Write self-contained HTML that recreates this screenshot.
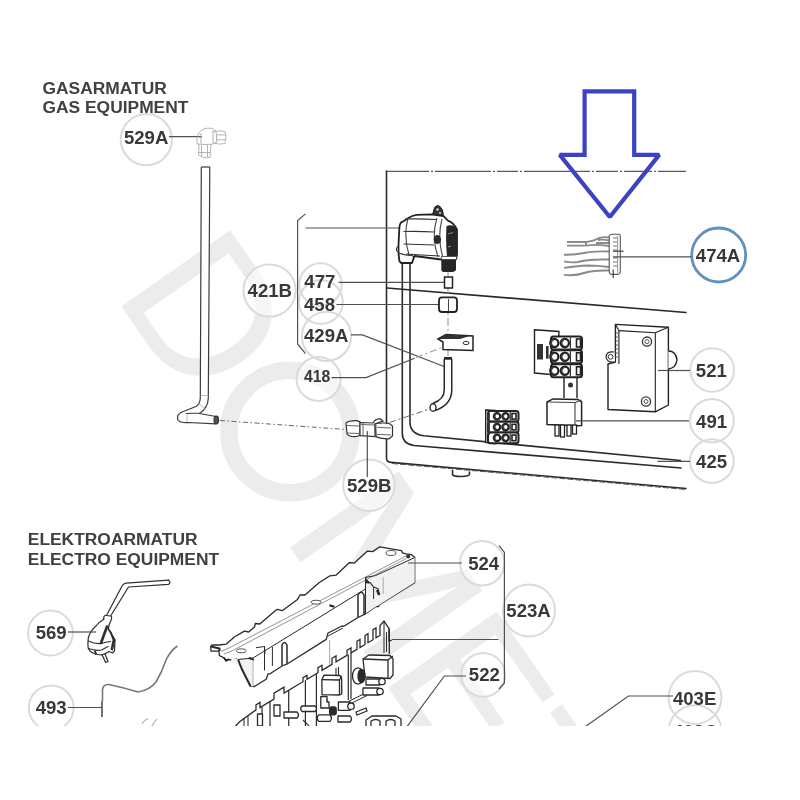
<!DOCTYPE html>
<html><head><meta charset="utf-8"><title>Dometic parts</title>
<style>
html,body{margin:0;padding:0;background:#fff;width:800px;height:800px;overflow:hidden}
svg{display:block}
.t{font-family:"Liberation Sans",sans-serif;font-weight:bold;fill:#383838;filter:grayscale(1)}
.h{font-family:"Liberation Sans",sans-serif;font-weight:bold;fill:#404040;font-size:17.4px;filter:grayscale(1)}
.c{fill:none;stroke:#dadada;stroke-width:2}
.cf{fill:#fff;fill-opacity:0.55;stroke:none}
.l{fill:none;stroke:#505050;stroke-width:1.2}
.d{fill:none;stroke:#2a2a2a;stroke-width:1.6;stroke-linejoin:round;stroke-linecap:round}
.g{fill:none;stroke:#909090;stroke-width:1}
.wm{font-family:"Liberation Sans",sans-serif;font-size:193px;fill:#ececec}
</style></head>
<body>
<svg width="800" height="800" viewBox="0 0 800 800">
<defs><clipPath id="cut"><rect x="0" y="0" width="800" height="726"/></clipPath></defs>
<g clip-path="url(#cut)">
<!-- watermark -->
<g transform="translate(112.3,293.6) rotate(55)" class="wm">
<text x="0" y="0">D</text>
<g transform="translate(292.1,0) scale(1.13,1)"><text x="0" y="0">M</text></g>
<text x="465.2" y="0">E</text>
<text x="590" y="0">T</text>
<text x="708" y="0">I</text>
<text x="762" y="0">C</text>
</g>
<circle cx="290" cy="431.5" r="61.2" fill="none" stroke="#ececec" stroke-width="17.5"/>

<!-- headers -->
<text class="h" x="42.5" y="93.6">GASARMATUR</text>
<text class="h" x="42.5" y="112.6">GAS EQUIPMENT</text>
<text class="h" x="27.8" y="545.2">ELEKTROARMATUR</text>
<text class="h" x="27.8" y="564.6">ELECTRO EQUIPMENT</text>

<!-- label circles -->
<g><circle class="cf" cx="146.3" cy="139.6" r="25.6"/><circle class="cf" cx="269.6" cy="290.5" r="26.1"/><circle class="cf" cx="320.5" cy="284.5" r="21.2"/><circle class="cf" cx="320.8" cy="302" r="22"/><circle class="cf" cx="326.5" cy="336.4" r="24.6"/><circle class="cf" cx="318.6" cy="379" r="22"/><circle class="cf" cx="368.9" cy="485.2" r="25.7"/><circle class="cf" cx="718.5" cy="254.5" r="26.5"/><circle class="cf" cx="712.2" cy="370" r="21.8"/><circle class="cf" cx="711.9" cy="420.7" r="21.8"/><circle class="cf" cx="711.9" cy="461.1" r="21.8"/><circle class="cf" cx="50.4" cy="633" r="22.4"/><circle class="cf" cx="51.2" cy="707.8" r="22.4"/><circle class="cf" cx="482.2" cy="563.3" r="22.2"/><circle class="cf" cx="529" cy="610.5" r="26"/><circle class="cf" cx="483.2" cy="674.9" r="21.9"/><circle class="cf" cx="695" cy="697.5" r="26.4"/><circle class="cf" cx="695" cy="731.7" r="26.4"/></g>
<circle class="c" cx="146.3" cy="139.6" r="25.6"/>
<circle class="c" cx="269.6" cy="290.5" r="26.1"/>
<circle class="c" cx="320.5" cy="284.5" r="21.2"/>
<circle class="c" cx="320.8" cy="302" r="22"/>
<circle class="c" cx="326.5" cy="336.4" r="24.6"/>
<circle class="c" cx="318.6" cy="379" r="22"/>
<circle class="c" cx="368.9" cy="485.2" r="25.7"/>
<circle cx="718.7" cy="255" r="27" fill="none" stroke="#6390c2" stroke-width="2.8"/>
<circle class="c" cx="712.2" cy="370" r="21.8"/>
<circle class="c" cx="711.9" cy="420.7" r="21.8"/>
<circle class="c" cx="711.9" cy="461.1" r="21.8"/>
<circle class="c" cx="50.4" cy="633" r="22.4"/>
<circle class="c" cx="51.2" cy="707.8" r="22.4"/>
<circle class="c" cx="482.2" cy="563.3" r="22.2"/>
<circle class="c" cx="529" cy="610.5" r="26"/>
<circle class="c" cx="483.2" cy="674.9" r="21.9"/>
<circle class="c" cx="695" cy="697.5" r="26.4"/>
<circle class="c" cx="695" cy="731.7" r="26.4"/>

<!-- labels -->
<g class="t" font-size="18.6">
<text x="123.9" y="144.4">529A</text>
<text x="247.6" y="296.7">421B</text>
<text x="304.3" y="288">477</text>
<text x="304" y="310.9">458</text>
<text x="304" y="342.4">429A</text>
<text x="347" y="492">529B</text>
<text x="695.8" y="261.6">474A</text>
<text x="695.8" y="376.9">521</text>
<text x="696.1" y="428">491</text>
<text x="696.1" y="468.3">425</text>
<text x="35.7" y="639.2">569</text>
<text x="35.7" y="714.2">493</text>
<text x="468.2" y="569.7">524</text>
<text x="506.3" y="616.8">523A</text>
<text x="468.8" y="681.2">522</text>
<text x="672.9" y="704.7">403E</text>
<text x="672.9" y="738">403C</text>
<text x="304" y="381.9" font-size="15.8">418</text>
</g>

<!-- ===== GAS SECTION ===== -->
<!-- panel frames -->
<line x1="387" y1="171.3" x2="686" y2="171.3" stroke="#5a5a5a" stroke-width="1.3" stroke-dasharray="42 2 2 2 56 2 2 2 21 2 2 2 66 2 2 2 22 2 2 2 28 2 2 2 40"/>
<path class="d" d="M386.5 171 V458 Q386.5 462 391 462.4 L686 488.5" stroke-width="2.4"/>
<path d="M392 463.5 L686 489.5" stroke="#555" stroke-width="1" stroke-dasharray="6 2" fill="none"/>
<path class="d" d="M402.3 262 V433 Q402.3 444 414 445.5 L681 468"/>
<path class="d" d="M410 262 V422 Q410 434 424 435.8 L680.5 460.5"/>
<path class="d" d="M387 288 L686 312.5" stroke-width="1.4"/>
<path class="d" d="M452.5 470.5 V474.5 Q453 476.5 461 476.5 Q469.5 476.5 469.5 474 V472" stroke-width="1.2"/>

<!-- 421B bracket & leaders -->
<path class="l" d="M305.5 213.9 L297.6 220.6 V344 L305.5 353.7"/>
<line class="l" x1="305.5" y1="228" x2="399" y2="228"/>
<line class="l" x1="338.5" y1="282.4" x2="444" y2="282.4"/>
<line class="l" x1="336.5" y1="304.5" x2="439" y2="304.5"/>
<path class="l" d="M351 334.9 H362.5 L448 368"/>
<path class="l" d="M331.6 377.6 H366 L414.6 358.3"/>
<path class="g" d="M416 357.5 L444 346.8" stroke-dasharray="7 3 2 3"/>
<line class="g" x1="448" y1="270" x2="448" y2="356" stroke-dasharray="8 3 2 3" stroke="#aaa"/>

<!-- gas valve -->
<g stroke-linejoin="round">
<path d="M399.4 227 Q400 222 403 221.6 L408.4 218 Q412 215.5 416.5 214.8 L431.8 214.4 L443.5 216.2 L448 220.7 Q454 223 457 229.7 V254 L456.1 259.4 L441 259.5 L414.7 256 L413.8 257.6 L412 263 H401.2 L399.4 261.2 L398.5 253 V245 Z" fill="#fff" stroke="#222" stroke-width="1.8"/>
<path d="M432.7 214 L434.5 207.5 Q437 204 440 206.5 L442.5 210 L443.5 216 Z" fill="#333" stroke="#222" stroke-width="1"/>
<circle cx="437.5" cy="209.5" r="1.2" fill="#ddd"/><circle cx="440" cy="213" r="1" fill="#ddd"/>
<path d="M446.5 226 Q450 224.5 454 226 L457 229.7 V254 L456 256.5 H447 Q445.5 242 446.5 226 Z" fill="#262626"/>
<path d="M448 234 L453 232.5 M448 247 L451 246" stroke="#aaa" stroke-width="0.8"/>
<path d="M403.5 231.5 Q420 231 434 232 M403.5 244 Q420 244.5 434 245 M405 219 Q420 218.5 436 219.5 M406 254 Q420 255 440 256" stroke="#333" stroke-width="1.2" fill="none"/>
<path d="M408 218 Q403 237 409.3 256 M437 218 Q431 237 438 257 M442 219 Q437 238 443 258" stroke="#444" stroke-width="1.1" fill="none"/>
<path d="M433.6 239.5 Q434 235 437.5 235 Q441 235.5 441 240 Q440.5 244 437 244 Q433.7 243.5 433.6 239.5 Z" fill="#2a2a2a"/>
<path d="M441.3 258.5 H456 V270 Q455 272 452 272 H444 Q441.3 272 441.3 270 Z" fill="#262626"/>
<path d="M441.5 256.5 H456.5 V259.5 H441.5 Z" fill="#fff" stroke="#333" stroke-width="0.8"/>
<path d="M398.5 253 Q404 255.5 412 255.5 L414 257" fill="none" stroke="#333" stroke-width="1.1"/>
<path d="M398 246 L396.5 248 V251 L398.5 252" fill="none" stroke="#333" stroke-width="1"/>
</g>
<!-- 477 -->
<rect x="444.5" y="277" width="8" height="11" fill="#fff" stroke="#222" stroke-width="1.5"/>
<!-- 458 -->
<rect x="439" y="297.3" width="18" height="14.7" rx="3" fill="#fff" stroke="#222" stroke-width="1.8"/>
<line x1="448.5" y1="299" x2="448.5" y2="311" stroke="#444" stroke-width="1"/>
<!-- 429A bracket -->
<path d="M438 339 L446 334.5 L473 336 V350.5 L443 349.5 V342 Z" fill="#fff" stroke="#222" stroke-width="1.5"/>
<path d="M438 339 L446 334.5 L470 336 L460 339 Z" fill="#333"/>
<ellipse cx="466" cy="343" rx="3" ry="1.6" fill="none" stroke="#333" stroke-width="1"/>
<!-- 418 hose -->
<path d="M448 359 V390 Q448 402 434 407" fill="none" stroke="#2a2a2a" stroke-width="9" stroke-linecap="butt"/>
<path d="M448 359.5 V390 Q448 402 434 407" fill="none" stroke="#fff" stroke-width="6"/>
<ellipse cx="433" cy="407.5" rx="3" ry="3.8" fill="#fff" stroke="#2a2a2a" stroke-width="1.4"/>
<rect x="444" y="357" width="8" height="2.5" fill="#2a2a2a"/>

<!-- long pipe 421B -->
<path d="M201.3 167 H209.8 L208.3 398 Q208 408 200 413 L216 416.5 V423.8 L188 422.5 Q180 423 178 420 Q176 415 182 412 L196 406.5 Q200 404 200.3 398 Z" fill="#fff" stroke="none"/>
<path d="M201.3 167 L200.3 398 Q200 404 196 406.5 L182 412 Q176 415 178 420 Q180 423 188 422.5 L216 423.8" fill="none" stroke="#3a3a3a" stroke-width="1.2"/>
<path d="M209.8 167 L208.3 398 Q208 408 200 413 L186 413.5 M199 413.5 L216 416.5" fill="none" stroke="#3a3a3a" stroke-width="1.2"/>
<line x1="201.3" y1="167" x2="209.8" y2="167" stroke="#3a3a3a" stroke-width="1.2"/>
<path d="M187 414.5 V422 M200.8 395.5 H208.3 M199 404 L206 409" stroke="#aaa" stroke-width="0.8" fill="none"/>
<ellipse cx="216.3" cy="420" rx="2.2" ry="3.8" fill="#555" stroke="#333" stroke-width="1.3"/>
<path d="M220 420.5 L346 429.5" stroke="#666" stroke-width="1" stroke-dasharray="5 2.5 1.5 2.5" fill="none"/>
<!-- 529A elbow -->
<line class="l" x1="169" y1="136.7" x2="202" y2="136.7"/>
<g fill="none" stroke="#aaa" stroke-width="0.9">
<path d="M197 144 Q196 131 205 128.5 Q212 127 216 131 L217 142 Q213 145 206 144.5 Z"/>
<path d="M212 132 Q220 130 225 131.5 Q227 136 225 143.5 Q219 145 214 143"/>
<path d="M199 144 L198.5 155 Q203 158.5 210 157.5 L211 144"/>
<path d="M201 133 V143.5 M216.5 134.9 H225.5 M216.5 139.8 H225.5 M201.5 145 V156 M207.5 145 V157 M199 152.5 H210.5 M213 131 V143"/>
</g>
<!-- 529B fitting -->
<g fill="#fff" stroke="#333" stroke-width="1.2">
<path d="M346 423 Q348 420.5 357 420.6 L360 422 V435 L357 436.5 Q349 437 347 434 Z"/>
<path d="M360 422.5 L373 423 Q375 419 380 418.7 L383 421 L375 424 V436.5 L360 435.7 Z"/>
<path d="M375 424 Q380 422.5 389 423.3 L392.5 426 V436 L389 438.8 Q379 438.5 376 436.5 Z"/>
</g>
<path d="M347 425.5 L359 426 M347 433 L359 433.5 M377 427.3 L391 428 M377 434.3 L391 435 M361 424.5 L374 425 M363 422 V436 M376 424.5 V437.5" stroke="#555" stroke-width="0.9" fill="none"/>
<line class="l" x1="367.3" y1="431" x2="367.3" y2="477"/>
<path d="M390 422.3 L431 408.5" stroke="#666" stroke-width="1" stroke-dasharray="6 3 2 3" fill="none"/>

<!-- 474A harness -->
<g fill="none" stroke="#8a8a8a" stroke-width="1.9">
<path d="M567 242 H586 Q594 241 598 238.5 Q604 236.5 609 237.5"/>
<path d="M567 245.6 H586 M586 242 V245.6 M586 245.6 Q596 244 609 246"/>
<path d="M598 240 Q603 239 609 240.5 M596 243 Q602 243 609 243"/>
<path d="M564 254.7 Q575 255 584 253 Q592 251 609 251.5"/>
<path d="M564 261.3 Q571 263 578 262 Q586 259 609 259.5"/>
<path d="M564 267.9 Q578 266 588 265.5 Q598 265.5 609 267"/>
<path d="M564 274.9 Q576 276 584 273 Q592 270 609 270.5"/>
</g>
<path d="M609.2 236 Q610 234 613 234.2 H619 Q620.5 234.5 620.3 237 V272 Q620 274.3 617 274.4 H612 Q609.2 274.4 609.2 271 Z" fill="#fff" stroke="#555" stroke-width="1.1"/>
<line x1="617.6" y1="236" x2="617.6" y2="273" stroke="#777" stroke-width="0.8"/>
<g stroke="#666" stroke-width="0.9"><line x1="613" y1="238" x2="617" y2="238"/><line x1="613" y1="242" x2="617" y2="242"/><line x1="613" y1="246" x2="617" y2="246"/><line x1="613" y1="250" x2="617" y2="250"/><line x1="613" y1="258" x2="617" y2="258"/><line x1="613" y1="262" x2="617" y2="262"/><line x1="613" y1="266" x2="617" y2="266"/></g>
<line x1="613.2" y1="269.6" x2="613.2" y2="278" stroke="#333" stroke-width="1.1"/>
<line x1="613" y1="251.2" x2="623.7" y2="251.2" stroke="#333" stroke-width="1.1"/>
<line class="l" x1="613" y1="256.8" x2="691.5" y2="256.8"/>

<!-- 521 module -->
<g fill="#fff" stroke="#222" stroke-width="1.4" stroke-linejoin="round">
<path d="M615.4 324.4 L668.4 327.2 V405 L655.3 411.8 L608 409.5 V364 L615.4 362 Z"/>
<path d="M618.9 330.6 L655.3 332.7 V411.8 M655.3 332.7 L668.4 327.2" fill="none" stroke-width="1.1"/>
<path d="M615.4 324.4 L618.9 330.6 V364" fill="none" stroke-width="1.1"/>
<path d="M614 352 Q606 351 606 357 Q607 363 615 362" stroke-width="1.2"/>
<path d="M668.4 351 Q676 351 677 360 Q676 368 668.4 369"/>
</g>
<circle cx="610.6" cy="356.8" r="2.4" fill="none" stroke="#333" stroke-width="1"/>
<g stroke="#555" stroke-width="0.9"><line x1="615.5" y1="333" x2="618.5" y2="333"/><line x1="615.5" y1="337" x2="618.5" y2="337"/><line x1="615.5" y1="341" x2="618.5" y2="341"/><line x1="615.5" y1="345" x2="618.5" y2="345"/><line x1="615.5" y1="349" x2="618.5" y2="349"/><line x1="615.5" y1="353" x2="618.5" y2="353"/><line x1="615.5" y1="357" x2="618.5" y2="357"/></g>
<circle cx="647" cy="341.6" r="4.6" fill="#fff" stroke="#333" stroke-width="1.3"/><circle cx="647" cy="341.6" r="2" fill="none" stroke="#555" stroke-width="1"/>
<circle cx="646" cy="401.5" r="4.6" fill="#fff" stroke="#333" stroke-width="1.3"/><circle cx="646" cy="401.5" r="2" fill="none" stroke="#555" stroke-width="1"/>
<line class="l" x1="658" y1="370.5" x2="690" y2="370.5"/>

<!-- terminal block upper -->
<path d="M534.5 329.8 L558.9 331.5 V375.3 L534.5 373 Z" fill="#fff" stroke="#222" stroke-width="1.4"/>
<g fill="#333"><rect x="537" y="344" width="6" height="15.5"/><rect x="546" y="346" width="2.6" height="12.7"/></g>
<rect x="551" y="336.5" width="31" height="13" rx="2.5" fill="#fff" stroke="#222" stroke-width="2"/>
<circle cx="554.3" cy="343.0" r="4.1" fill="#fff" stroke="#222" stroke-width="2.2"/><path d="M553.5 339.9 A3.3 3.3 0 0 0 553.5 346.1" fill="none" stroke="#444" stroke-width="1.4"/>
<circle cx="564.8" cy="343.0" r="4.1" fill="#fff" stroke="#222" stroke-width="2.2"/><path d="M564.0 339.9 A3.3 3.3 0 0 0 564.0 346.1" fill="none" stroke="#444" stroke-width="1.4"/>
<rect x="576.5" y="339.0" width="4" height="8" fill="#fff" stroke="#222" stroke-width="1.6"/>
<line x1="570.4" y1="337.5" x2="570.4" y2="348.5" stroke="#333" stroke-width="1.2"/>
<rect x="551" y="350.3" width="31" height="13" rx="2.5" fill="#fff" stroke="#222" stroke-width="2"/>
<circle cx="554.3" cy="356.8" r="4.1" fill="#fff" stroke="#222" stroke-width="2.2"/><path d="M553.5 353.7 A3.3 3.3 0 0 0 553.5 359.9" fill="none" stroke="#444" stroke-width="1.4"/>
<circle cx="564.8" cy="356.8" r="4.1" fill="#fff" stroke="#222" stroke-width="2.2"/><path d="M564.0 353.7 A3.3 3.3 0 0 0 564.0 359.9" fill="none" stroke="#444" stroke-width="1.4"/>
<rect x="576.5" y="352.8" width="4" height="8" fill="#fff" stroke="#222" stroke-width="1.6"/>
<line x1="570.4" y1="351.3" x2="570.4" y2="362.3" stroke="#333" stroke-width="1.2"/>
<rect x="551" y="364.3" width="31" height="13" rx="2.5" fill="#fff" stroke="#222" stroke-width="2"/>
<circle cx="554.3" cy="370.8" r="4.1" fill="#fff" stroke="#222" stroke-width="2.2"/><path d="M553.5 367.7 A3.3 3.3 0 0 0 553.5 373.9" fill="none" stroke="#444" stroke-width="1.4"/>
<circle cx="564.8" cy="370.8" r="4.1" fill="#fff" stroke="#222" stroke-width="2.2"/><path d="M564.0 367.7 A3.3 3.3 0 0 0 564.0 373.9" fill="none" stroke="#444" stroke-width="1.4"/>
<rect x="576.5" y="366.8" width="4" height="8" fill="#fff" stroke="#222" stroke-width="1.6"/>
<line x1="570.4" y1="365.3" x2="570.4" y2="376.3" stroke="#333" stroke-width="1.2"/>
<circle cx="559.5" cy="350" r="1.3" fill="#333"/><circle cx="559.5" cy="364" r="1.3" fill="#333"/>
<path d="M564 377 V398 M577 377 V398" stroke="#222" stroke-width="1.4"/>
<circle cx="570.5" cy="385" r="2.5" fill="#333"/>
<!-- relay 491 -->
<path d="M547 402 L553 398.9 L578 399.5 L581.6 402 V425.5 L576 425.7 L547 424.5 Z" fill="#fff" stroke="#222" stroke-width="1.5"/>
<path d="M547 402 L575 402.5 L581.6 400 M575 402.5 V425.7" fill="none" stroke="#444" stroke-width="1.1"/>
<g fill="#fff" stroke="#222" stroke-width="1.3">
<rect x="555" y="425" width="4" height="11"/><rect x="560.5" y="425" width="4" height="12"/><rect x="567" y="425" width="4" height="11"/><rect x="572.5" y="425" width="4" height="9"/>
</g>
<line class="l" x1="576" y1="420.8" x2="689" y2="420.8"/>
<!-- terminal block lower -->
<path d="M485.7 410 L495 410.5 V443.6 L485.7 442.5 Z" fill="#fff" stroke="#222" stroke-width="1.4"/>
<rect x="488" y="411" width="30.5" height="10.6" rx="2.5" fill="#fff" stroke="#222" stroke-width="2"/>
<circle cx="497" cy="416.3" r="3.2" fill="#fff" stroke="#222" stroke-width="2.2"/><path d="M496.4 413.9 A2.6 2.6 0 0 0 496.4 418.7" fill="none" stroke="#444" stroke-width="1.4"/>
<circle cx="505.5" cy="416.3" r="3.2" fill="#fff" stroke="#222" stroke-width="2.2"/><path d="M504.9 413.9 A2.6 2.6 0 0 0 504.9 418.7" fill="none" stroke="#444" stroke-width="1.4"/>
<rect x="512" y="413.5" width="4" height="5.6" fill="#fff" stroke="#222" stroke-width="1.6"/>
<line x1="510.2" y1="412" x2="510.2" y2="420.6" stroke="#333" stroke-width="1.2"/>
<rect x="488" y="421.8" width="30.5" height="10.6" rx="2.5" fill="#fff" stroke="#222" stroke-width="2"/>
<circle cx="497" cy="427.1" r="3.2" fill="#fff" stroke="#222" stroke-width="2.2"/><path d="M496.4 424.7 A2.6 2.6 0 0 0 496.4 429.5" fill="none" stroke="#444" stroke-width="1.4"/>
<circle cx="505.5" cy="427.1" r="3.2" fill="#fff" stroke="#222" stroke-width="2.2"/><path d="M504.9 424.7 A2.6 2.6 0 0 0 504.9 429.5" fill="none" stroke="#444" stroke-width="1.4"/>
<rect x="512" y="424.3" width="4" height="5.6" fill="#fff" stroke="#222" stroke-width="1.6"/>
<line x1="510.2" y1="422.8" x2="510.2" y2="431.40000000000003" stroke="#333" stroke-width="1.2"/>
<rect x="488" y="432.6" width="30.5" height="10.6" rx="2.5" fill="#fff" stroke="#222" stroke-width="2"/>
<circle cx="497" cy="437.90000000000003" r="3.2" fill="#fff" stroke="#222" stroke-width="2.2"/><path d="M496.4 435.5 A2.6 2.6 0 0 0 496.4 440.3" fill="none" stroke="#444" stroke-width="1.4"/>
<circle cx="505.5" cy="437.90000000000003" r="3.2" fill="#fff" stroke="#222" stroke-width="2.2"/><path d="M504.9 435.5 A2.6 2.6 0 0 0 504.9 440.3" fill="none" stroke="#444" stroke-width="1.4"/>
<rect x="512" y="435.1" width="4" height="5.6" fill="#fff" stroke="#222" stroke-width="1.6"/>
<line x1="510.2" y1="433.6" x2="510.2" y2="442.20000000000005" stroke="#333" stroke-width="1.2"/>
<rect x="487.3" y="413" width="2.6" height="22" fill="#333"/>
<line class="l" x1="657.5" y1="461.3" x2="690" y2="461.3"/>

<!-- ===== ELECTRO SECTION ===== -->
<!-- plug 569 -->
<g fill="none" stroke="#2e2e2e" stroke-width="1.2" stroke-linejoin="round" stroke-linecap="round">
<path d="M168.5 580.2 Q171.5 582.2 168.5 584.4 L128.5 587 L110.6 616"/>
<path d="M168.5 580.2 L126 583.2 Q123.5 583.5 122 586 L106.5 615.5"/>
<path d="M106.5 615.5 Q104 615 103.6 618 L104 624 Q106 626 109 625 L111.5 619 Q112 616 110.6 616 Z" fill="#fff"/>
<path d="M104 619 Q99 622 96 626 Q90 631 88.3 638 Q87.5 646 88.5 649 Q91 654 101 655 Q106 654 109 651.5 L112.5 653 L114.5 651 L115 640 L108.5 628.5 L109 625" fill="#fff"/>
<path d="M108 629 L114.8 639.5 L112.5 650" />
<path d="M88.3 641 Q95 644 101 643.5 Q106 642 110.5 641.5 M88.5 648.5 Q95 651 101.5 650 L108 646.5"/>
<path d="M107 626.5 L101 643" stroke-width="2.6"/>
<path d="M110.5 632 L113.5 640 L111.5 649" stroke-width="1.8"/>
<path d="M102 654.5 L105.6 662.5 L108 661.5 L105 654"/>
<path d="M95 651 L96 654" stroke-width="1.8"/>
</g>
<line class="l" x1="68" y1="632" x2="96" y2="632"/>
<!-- wire 493 -->
<path d="M102.5 701 V690 Q103 684 109 684.5 Q125 688 138 692 Q150 690 156 682 Q162 672 166 660 Q171 650 177.5 646" fill="none" stroke="#777" stroke-width="1.6"/>
<line class="l" x1="68" y1="707.5" x2="102" y2="707.5"/>
<line x1="102" y1="701" x2="102" y2="717" stroke="#444" stroke-width="1.5"/>
<path d="M142 724 Q144 720 148 718.5 M152 726 Q154 722 157 719" fill="none" stroke="#888" stroke-width="0.9"/>

<!-- cover (524) -->
<g fill="none" stroke="#2a2a2a" stroke-width="1.3" stroke-linejoin="round">
<path d="M210.7 646.5 L212 644.8 L219.4 645 L226 644.2 L232.1 639 L233.9 637.2 L244.4 631.1 L248.7 632 L254.5 627 L255.3 623.5 L259.8 624 L275.5 610.5 L277.5 609.4 L282.5 610.6 L297.5 599.4 L300 595 L305 595 L319 582.8 L330 575.8 L336 575.2 L349.5 562.5 L354 563.2 L367.5 551.1 L372.7 551.6 L379.7 546.8 L401.6 550.7 L402.5 552.9 L406 553.8 L411.2 554.6 L414.7 557.3 V582.6 L379.7 604.5 L378.5 606.5 L376.3 606.3 L364.9 614.1 L358 617.5 L343.8 626.3 L342 626 L328 633 L326.3 639.4 L287.5 663.8 L282 666 L270 673.8 L268 674 L266.2 679.2 L254 686.7 L250.5 686.2 L246.1 677.5 L241.7 668.7 L238.2 660 L236.5 659.1 L226 660 L222.5 657 L219.4 655.6 L219 651.2 L211 651.2 Z" fill="#fff"/>
<path d="M365.5 577.4 L375.4 575.6 L404 562.5 L414.7 557.5 V582.6 L379.7 604.5 L376.3 606.3 L365 614 Z" fill="#f1f1f1" stroke="none"/>
<path d="M226 655 L238 659.5 L253 658 V686.5 L250.5 686.2 L241.7 668.7 Z" fill="#f3f3f3" stroke="none"/>
<path d="M221 651.5 L228 648.5 L407 555.5 M224 654 L232 651 L406 558.5" stroke="#888" stroke-width="0.9"/>
<path d="M238 659.5 L253 658 L365.5 589 M365.5 577.4 L375.4 575.6 L404 562.5 L414.7 557.5" stroke-width="1"/>
<path d="M253 658 V686" stroke="#aaa" stroke-width="0.9"/>
<path d="M238.2 660 L241.7 668.7 L250.5 686.2" stroke-width="2"/>
<path d="M282 665.5 V645 Q284.5 640 287 645 V663.8" stroke-width="1.5"/>
<path d="M358 617.5 V595 Q361 589.5 364 595 V614.5" stroke-width="1.5"/>
<path d="M365.5 577.4 V614 M373.6 587 V599" stroke-width="1"/><path d="M383.2 577.4 V594" stroke="#aaa" stroke-width="1"/>
<path d="M365.8 577.4 L366.2 582.6 L370.1 582.6 L373.6 587 L378 588.8 L379.7 595" stroke-width="1.2"/><path d="M366 580 L369 583 M377 590 L379 595" stroke-width="2.2"/>
<path d="M264.5 646 V670.5 M272.4 647 V666 M256 647.7 L264.5 646.5 L265 653.9" stroke-width="1"/>
<path d="M328 636 L343 628" stroke-width="1"/>
<path d="M211 646.5 L219.4 648.5 L219.4 651" stroke-width="2.2"/>
<path d="M224 657.5 L226 661 L229 659" stroke-width="1.6"/>
<path d="M248.7 658 L254 659.6" stroke-width="2"/>
</g>
<ellipse cx="241.3" cy="650.8" rx="5" ry="2" fill="#fff" stroke="#555" stroke-width="1"/>
<ellipse cx="316" cy="602.2" rx="5" ry="2" fill="#fff" stroke="#555" stroke-width="1"/>
<ellipse cx="391" cy="553" rx="5" ry="2.5" fill="#fff" stroke="#555" stroke-width="1"/>
<path d="M329.4 605.2 L334.4 606.8" stroke="#222" stroke-width="2"/>
<circle cx="408.2" cy="556.4" r="2" fill="#333"/>
<line class="l" x1="408" y1="563" x2="462" y2="563"/>

<!-- board (522) -->
<g fill="none" stroke="#2a2a2a" stroke-width="1.3" stroke-linejoin="miter">
<path d="M235.6 726 L239.6 721.7 L256 709.9 V704.9 L260 702.5 V707.5 L274 699.1 V693.1 L284 687.1 V693.1 L303 681.7 V677.7 L307 675.3 V679.3 L318 672.7 V667.7 L322 665.3 V670.3 L332 664.3 V658.3 L336 655.9 V661.9 L347 655.3 V650.3 L351 647.9 V652.9 L357 649.3 V641.3 L360 639.5 V647.5 L365 644.5 V635.5 L368 633.7 V642.7 L373 639.7 V629.7 L376 627.9 V637.9 L380 635.5 V625.5 L384 621.1 L389.3 629 V654"/>
<path d="M389 629 V641 L392 640" stroke-width="1.3"/>
<path d="M384 621.1 V653 M386.5 632 V652" stroke-width="1"/>
<path d="M329.7 640 V665" stroke="#999" stroke-width="0.9"/>
<path d="M288.7 690.3 V726 M305.4 680.3 V726 M316.4 673.7 V726 M348.3 654.5 V700 M351 652.9 V699 M262 706.3 V726 M270 701.5 V726" stroke-width="1.2"/>
<path d="M348.3 701.6 L366 692.8 M350 704 L367 695.5" stroke-width="1"/>
</g>
<line class="l" x1="392" y1="639.5" x2="498.4" y2="639.5"/>
<!-- board components -->
<g fill="#fff" stroke="#2a2a2a" stroke-width="1.3" stroke-linejoin="round">
<path d="M321.9 679.6 L324 675.2 L340 675.5 L341.7 679 V694 L339.5 695 L322 694.6 Z"/>
<path d="M321.9 679.6 L339.5 680 L341.7 676 M339.5 680 V695" fill="none"/>
<path d="M336 668 V676 M338.5 667 V675.5" stroke-width="1.1" fill="none"/>
<path d="M363 659 L369 655 L390 655.5 L393 659 V675 L390 678.5 L365 677 Z"/>
<path d="M363 659 L388 660 L393 656 M388 660 V678.5" fill="none"/>
<ellipse cx="358" cy="676" rx="5.5" ry="8.2"/><ellipse cx="361.5" cy="676" rx="3.5" ry="6.5" fill="#2a2a2a"/>
<path d="M366 679 H380 Q383 681 380 685 H366 Z"/><path d="M363 688 H379 Q383 691 379 695 H363 Z"/>
<circle cx="382" cy="681.5" r="3.2"/><circle cx="380" cy="691.5" r="3.2"/>
<path d="M302 706 H315 Q318 708.7 315 711.5 H302 Q299.5 708.7 302 706 Z"/>
<path d="M320.8 696.5 H327 V702 H329 V708 H320.8 Z"/>
<path d="M318.6 714.8 H330 Q333 718 330 721.4 H318.6 Q316 718 318.6 714.8 Z"/>
<rect x="329.6" y="707" width="6.6" height="7.8" rx="2" fill="#2a2a2a"/>
<path d="M338.4 702 H350 Q353.8 706 350 710.4 H338.4 Z"/><circle cx="351" cy="706.2" r="3.2"/>
<path d="M284 712 H297 Q300 715 297 718 H284 Z"/>
<path d="M257.5 714 H262.5 V726 H257.5 Z"/>
<path d="M274 705 H280 V716 H274 Z"/>
<path d="M338 716 H350 Q353 719 350 722 H338 Z"/>
<path d="M366 726 V720 L372 716 H396 L401 719 V726"/><path d="M371 726 V721 Q376 718 380 721 V726 M386 726 V721 Q391 718 395 721 V726" fill="none"/>
<path d="M356 712 L366 708 L367 711 L357 715 Z"/>
</g>
<path d="M326 700 L328 700 M303 720 L309 726 M244 718 L244 726 M248 716 L248 726" stroke="#333" stroke-width="1.1"/>
<!-- 523A bracket, leaders -->
<path class="l" d="M499 545.6 L504.4 552.5 V683 L499 689"/>
<path class="l" d="M466 676 H444.4 L406 728"/>
<path class="l" d="M673 696 H628.4 L583.4 728"/>

<!-- blue arrow -->
<path d="M584.6 91.4 H634.2 V154.9 H659.2 L609.8 217 L559.8 154.9 H584.6 Z" fill="none" stroke="#3b43c2" stroke-width="4.2" stroke-linejoin="miter" stroke-miterlimit="1.45"/>

</g>
</svg>
</body></html>
